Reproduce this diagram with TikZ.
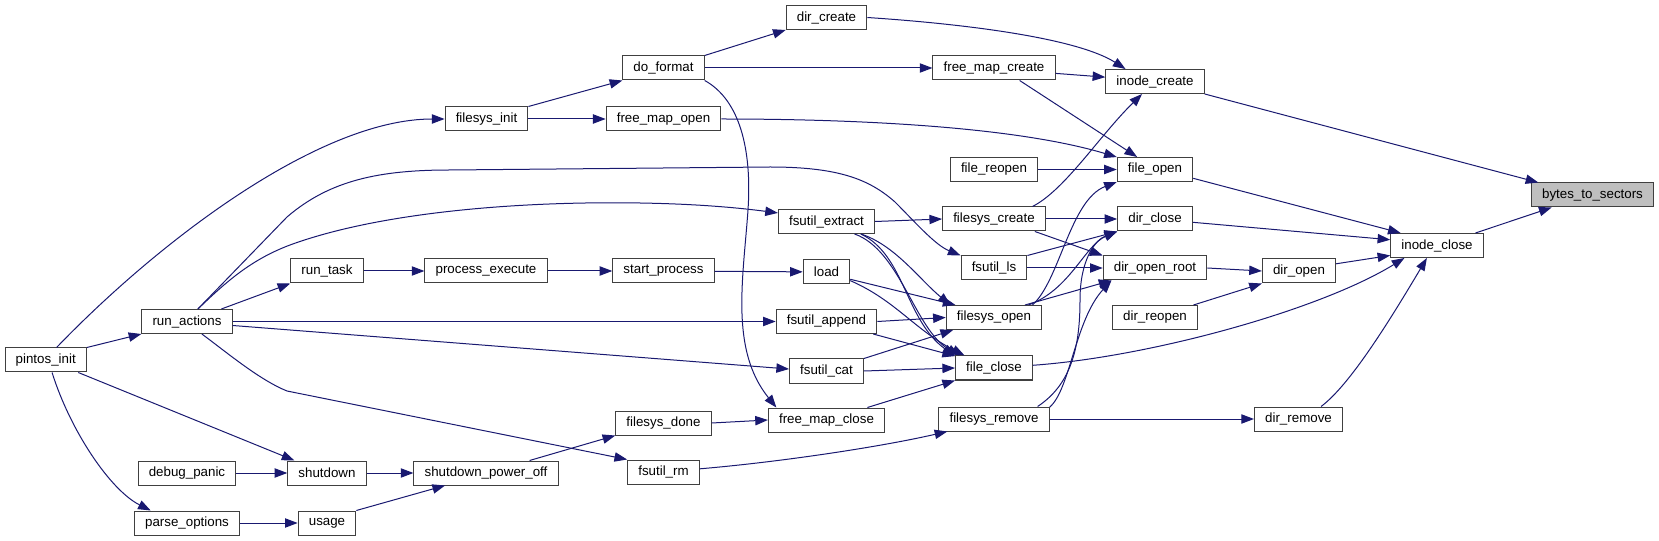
\documentclass[tikz,border=0pt]{standalone}
\usepackage{fontspec}
\newfontfamily\graphfont{Liberation Sans}
\usetikzlibrary{arrows.meta}
\definecolor{edgeblue}{RGB}{25,25,112}
\definecolor{boxgray}{RGB}{64,64,64}
\definecolor{rootgray}{RGB}{191,191,191}

\begin{document}
\begin{tikzpicture}[x=0.75pt, y=-0.75pt,
    func/.style={draw=boxgray, line width=0.75pt, fill=white, font=\graphfont\fontsize{10}{12}\selectfont, inner xsep=8pt, inner ysep=0pt, minimum height=18pt},
    rootfunc/.style={func, fill=rootgray},
    call/.style={draw=edgeblue, line width=0.75pt, -{Triangle[length=9.5pt, width=7pt]}}]
    \useasboundingbox (0, 0) rectangle (1659, 541);

    \node[func] (pintosinit) at (45.7, 360) {pintos\_init};
    \node[func] (runactions) at (187, 321.5) {run\_actions};
    \node[func] (debugpanic) at (187, 473) {debug\_panic};
    \node[func] (parseoptions) at (187, 523) {parse\_options};
    \node[func] (runtask) at (327, 271) {run\_task};
    \node[func] (shutdown) at (327, 473) {shutdown};
    \node[func] (usage) at (327, 523) {usage};
    \node[func] (filesysinit) at (486.5, 119) {filesys\_init};
    \node[func] (processexecute) at (486, 271) {process\_execute};
    \node[func] (shutdownpoweroff) at (486, 473) {shutdown\_power\_off};
    \node[func] (doformat) at (663.5, 68) {do\_format};
    \node[func] (freemapopen) at (663.5, 119) {free\_map\_open};
    \node[func] (startprocess) at (663.5, 271) {start\_process};
    \node[func] (filesysdone) at (663.5, 423) {filesys\_done};
    \node[func] (fsutilrm) at (663.5, 472) {fsutil\_rm};
    \node[func] (dircreate) at (826.5, 17.5) {dir\_create};
    \node[func] (fsutilextract) at (826.5, 221.5) {fsutil\_extract};
    \node[func] (load) at (826.5, 272) {load};
    \node[func] (fsutilappend) at (826.5, 321.5) {fsutil\_append};
    \node[func] (fsutilcat) at (826.5, 371) {fsutil\_cat};
    \node[func] (freemapclose) at (826.5, 420) {free\_map\_close};
    \node[func] (freemapcreate) at (994, 68) {free\_map\_create};
    \node[func] (filereopen) at (994, 169.5) {file\_reopen};
    \node[func] (filesyscreate) at (994, 219) {filesys\_create};
    \node[func] (fsutills) at (994, 268) {fsutil\_ls};
    \node[func] (filesysopen) at (994, 317.5) {filesys\_open};
    \node[func] (fileclose) at (994, 368) {file\_close};
    \node[func] (filesysremove) at (994, 419) {filesys\_remove};
    \node[func] (inodecreate) at (1155, 81.5) {inode\_create};
    \node[func] (fileopen) at (1155, 169.5) {file\_open};
    \node[func] (dirclose) at (1155, 219) {dir\_close};
    \node[func] (diropenroot) at (1155, 268) {dir\_open\_root};
    \node[func] (dirreopen) at (1155, 317.5) {dir\_reopen};
    \node[func] (diropen) at (1299, 271) {dir\_open};
    \node[func] (dirremove) at (1298.5, 419) {dir\_remove};
    \node[func] (inodeclose) at (1437, 245.5) {inode\_close};
    \node[rootfunc] (bytestosectors) at (1592.5, 195) {bytes\_to\_sectors};

    % callers on the left
    \draw[call] (pintosinit.north east) -- (runactions.south west);
    \draw[call] (pintosinit.49) .. controls (160, 240) and (320, 119) .. (filesysinit.west);
    \draw[call] (pintosinit.-21) -- (shutdown.159);
    \draw[call] (pintosinit.-63) .. controls (70, 430) and (110, 490) .. (parseoptions.161);
    \draw[call] (runactions.20) -- (runtask.south west);
    \draw[call] (runactions.49) -- (287, 217) .. controls (330, 180) and (380, 170) .. (450, 170) -- (770, 167) .. controls (840, 167) and (870, 180) .. (895, 202) .. controls (915, 222) and (935, 245) .. (fsutills.north west);
    \draw[call] (runactions.49) .. controls (225, 283) and (250, 260) .. (290, 245) .. controls (380, 212) and (520, 201) .. (640, 203) .. controls (700, 204) and (740, 208) .. (fsutilextract.170);
    \draw[call] (runactions.east) -- (fsutilappend.west);
    \draw[call] (runactions.-5) -- (fsutilcat.177);
    \draw[call] (runactions.-40) .. controls (230, 355) and (260, 380) .. (287, 391) -- (fsutilrm.north west);
    \draw[call] (runtask) -- (processexecute);
    \draw[call] (processexecute) -- (startprocess);
    \draw[call] (startprocess) -- (load);
    \draw[call] (debugpanic) -- (shutdown);
    \draw[call] (shutdown) -- (shutdownpoweroff);
    \draw[call] (parseoptions) -- (usage);
    \draw[call] (usage.north east) -- (shutdownpoweroff.197);
    \draw[call] (shutdownpoweroff.16) -- (filesysdone.south west);
    \draw[call] (filesysdone.east) -- (freemapclose.west);

    % middle columns
    \draw[call] (filesysinit.north east) -- (doformat.south west);
    \draw[call] (filesysinit) -- (freemapopen);
    \draw[call] (doformat.north east) -- (dircreate.south west);
    \draw[call] (doformat) -- (freemapcreate);
    \draw[call] (doformat.south east) .. controls (740, 100) and (752, 150) .. (748, 210) .. controls (743, 280) and (730, 350) .. (freemapclose.166);
    \draw[call] (dircreate.east) .. controls (980, 25) and (1080, 40) .. (inodecreate.157);
    \draw[call] (freemapcreate.-5) -- (inodecreate.175);
    \draw[call] (freemapcreate.-26) -- (fileopen.145);
    \draw[call] (freemapopen.east) .. controls (870, 119) and (1020, 128) .. (fileopen.162);
    \draw[call] (filereopen) -- (fileopen);
    \draw[call] (fsutilextract.east) -- (filesyscreate.west);
    \draw[call] (fsutilextract.-20) .. controls (895, 245) and (920, 280) .. (filesysopen.164);
    \draw[call] (fsutilextract.-20) .. controls (905, 255) and (905, 320) .. (fileclose.163);
    \draw[call] (fsutilextract.-24) .. controls (900, 250) and (915, 330) .. (fileclose.160);
    \draw[call] (load.-17) -- (filesysopen.162);
    \draw[call] (load.-20) .. controls (895, 300) and (915, 330) .. (fileclose.157);
    \draw[call] (fsutilappend.east) -- (filesysopen.west);
    \draw[call] (fsutilappend.-15) -- (fileclose.163);
    \draw[call] (fsutilcat.north east) -- (filesysopen.197);
    \draw[call] (fsutilcat.east) -- (fileclose.west);
    \draw[call] (freemapclose.17) -- (fileclose.south west);
    \draw[call] (fsutilrm.5) .. controls (780, 462) and (880, 447) .. (filesysremove.195);

    % directory and inode functions
    \draw[call] (filesyscreate.18) .. controls (1065, 190) and (1100, 135) .. (inodecreate.224);
    \draw[call] (filesyscreate.east) -- (dirclose.west);
    \draw[call] (filesyscreate.-17) -- (diropenroot.north west);
    \draw[call] (fsutills.north east) -- (dirclose.south west);
    \draw[call] (fsutills.east) -- (diropenroot.west);
    \draw[call] (filesysopen.18) .. controls (1060, 280) and (1070, 200) .. (fileopen.south west);
    \draw[call] (filesysopen.20) .. controls (1070, 290) and (1085, 245) .. (dirclose.south west);
    \draw[call] (filesysopen.22) -- (diropenroot.196);
    \draw[call] (filesysremove.16) .. controls (1070, 385) and (1080, 350) .. (1080, 300) .. controls (1080, 260) and (1095, 240) .. (dirclose.south west);
    \draw[call] (filesysremove.12) .. controls (1070, 390) and (1075, 320) .. (diropenroot.196);
    \draw[call] (filesysremove.east) -- (dirremove.west);
    \draw[call] (diropenroot.east) -- (diropen.west);
    \draw[call] (dirreopen.18) -- (diropen.south west);
    \draw[call] (diropen.11) -- (inodeclose.192);
    \draw[call] (dirclose.-5) -- (inodeclose.173);
    \draw[call] (fileopen.-13) -- (inodeclose.161);
    \draw[call] (fileclose.4) .. controls (1150, 357) and (1320, 310) .. (inodeclose.201);
    \draw[call] (dirremove.29) .. controls (1350, 385) and (1390, 320) .. (inodeclose.231);
    \draw[call] (inodeclose.18) -- (bytestosectors.197);
    \draw[call] (inodecreate.south east) -- (bytestosectors.167);
\end{tikzpicture}
\end{document}
